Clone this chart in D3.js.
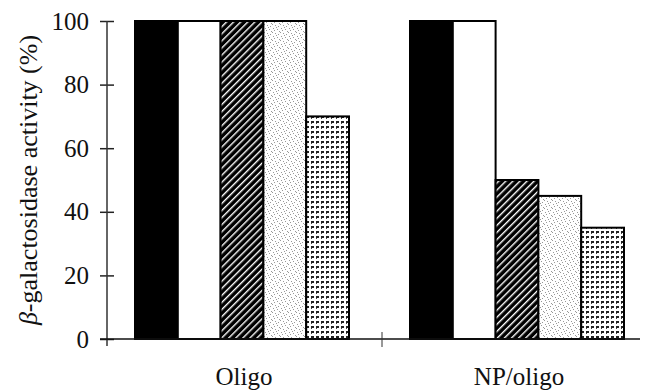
<!DOCTYPE html>
<html>
<head>
<meta charset="utf-8">
<script src="https://cdn.jsdelivr.net/npm/d3@7"></script>
<style>
  body { margin: 0; background: #fff; }
  svg { display: block; }
  text { font-family: "Liberation Serif", "Times New Roman", Times, serif; }
</style>
</head>
<body>
<script>
// Data
const groups = ["Oligo", "NP/oligo"];
const series = ["A", "B", "C", "D", "E"];
const oligoValues = [100, 100, 100, 100, 70];
const npOligoValues = [100, 100, 50, 45, 35];
const yTicks = [0, 20, 40, 60, 80, 100];

const groupValues = { "Oligo": oligoValues, "NP/oligo": npOligoValues };

const width = 650;
const height = 392;

const svg = d3.select("body").append("svg")
  .attr("width", width)
  .attr("height", height);

// Fill patterns
const defs = svg.append("defs");

const hatch = defs.append("pattern")
  .attr("id", "hatch")
  .attr("patternUnits", "userSpaceOnUse")
  .attr("width", 5).attr("height", 5)
  .attr("patternTransform", "rotate(45)");
hatch.append("rect").attr("width", 5).attr("height", 5).attr("fill", "#000");
hatch.append("rect").attr("x", 0).attr("width", 1.4).attr("height", 5).attr("fill", "#fff");

// light stipple
const stipple = defs.append("pattern")
  .attr("id", "stipple")
  .attr("patternUnits", "userSpaceOnUse")
  .attr("width", 8).attr("height", 8);
stipple.append("rect").attr("width", 8).attr("height", 8).attr("fill", "#fff");
[[0, 0], [3, 1], [6, 2], [4, 3], [1, 4], [5, 5], [2, 6], [7, 7]].forEach(p => {
  stipple.append("rect").attr("x", p[0]).attr("y", p[1])
    .attr("width", 1).attr("height", 1).attr("fill", "#999");
});

// grid of small dark marks
const grid = defs.append("pattern")
  .attr("id", "grid")
  .attr("patternUnits", "userSpaceOnUse")
  .attr("width", 5).attr("height", 5);
grid.append("rect").attr("width", 5).attr("height", 5).attr("fill", "#fff");
grid.append("rect").attr("x", 1).attr("y", 1).attr("width", 3).attr("height", 2).attr("fill", "#222");
grid.append("rect").attr("x", 1).attr("y", 3).attr("width", 1).attr("height", 1).attr("fill", "#444");

const fills = ["#000", "#fff", "url(#hatch)", "url(#stipple)", "url(#grid)"];

// Scales
const y = d3.scaleLinear().domain([0, 100]).range([339, 21]);
const x0 = d3.scaleBand().domain(groups).range([107, 657]).padding(0);
const x1 = d3.scaleBand().domain(series).range([28, 242]).padding(0);

// Bars
const g = svg.append("g");
groups.forEach(grp => {
  g.selectAll(null)
    .data(series.map((s, i) => ({ s, i, v: groupValues[grp][i] })))
    .enter()
    .append("rect")
    .attr("x", d => x0(grp) + x1(d.s))
    .attr("width", x1.bandwidth())
    .attr("y", d => y(d.v))
    .attr("height", d => y(0) - y(d.v))
    .attr("fill", d => fills[d.i])
    .attr("stroke", "#000")
    .attr("stroke-width", 2);
});

// Y axis
const yAxis = svg.append("g")
  .attr("transform", "translate(107,0)")
  .call(d3.axisLeft(y).tickValues(yTicks).tickSize(7).tickSizeOuter(0).tickPadding(11));
yAxis.select(".domain").remove();
yAxis.selectAll(".tick line").attr("x1", 7).attr("stroke", "#222").attr("stroke-width", 1.5);
yAxis.selectAll(".tick text")
  .attr("font-family", null)
  .attr("font-size", "25px")
  .attr("fill", "#111");
yAxis.attr("font-family", null);
yAxis.append("line")
  .attr("x1", 0).attr("x2", 0)
  .attr("y1", y(100)).attr("y2", y(0) + 7)
  .attr("stroke", "#333").attr("stroke-width", 1.5);

// X axis line with group divider tick
svg.append("line")
  .attr("x1", 100).attr("x2", 640)
  .attr("y1", y(0)).attr("y2", y(0))
  .attr("stroke", "#111").attr("stroke-width", 1.5);
svg.append("line")
  .attr("x1", x0("NP/oligo")).attr("x2", x0("NP/oligo"))
  .attr("y1", y(0) - 7).attr("y2", y(0) + 8)
  .attr("stroke", "#333").attr("stroke-width", 1);

// Group labels
svg.selectAll(".glabel")
  .data(groups)
  .enter()
  .append("text")
  .attr("class", "glabel")
  .attr("x", d => x0(d) + (x1.range()[0] + x1.range()[1]) / 2 + 2)
  .attr("y", 385)
  .attr("text-anchor", "middle")
  .attr("font-size", "25px")
  .attr("fill", "#111")
  .text(d => d);

// Y axis title
const title = svg.append("text")
  .attr("transform", `translate(37,${(y(0) + y(100)) / 2}) rotate(-90)`)
  .attr("text-anchor", "middle")
  .attr("font-size", "26px")
  .attr("fill", "#111");
title.append("tspan").attr("font-style", "italic").text("β");
title.append("tspan").text("-galactosidase activity (%)");
</script>
</body>
</html>
